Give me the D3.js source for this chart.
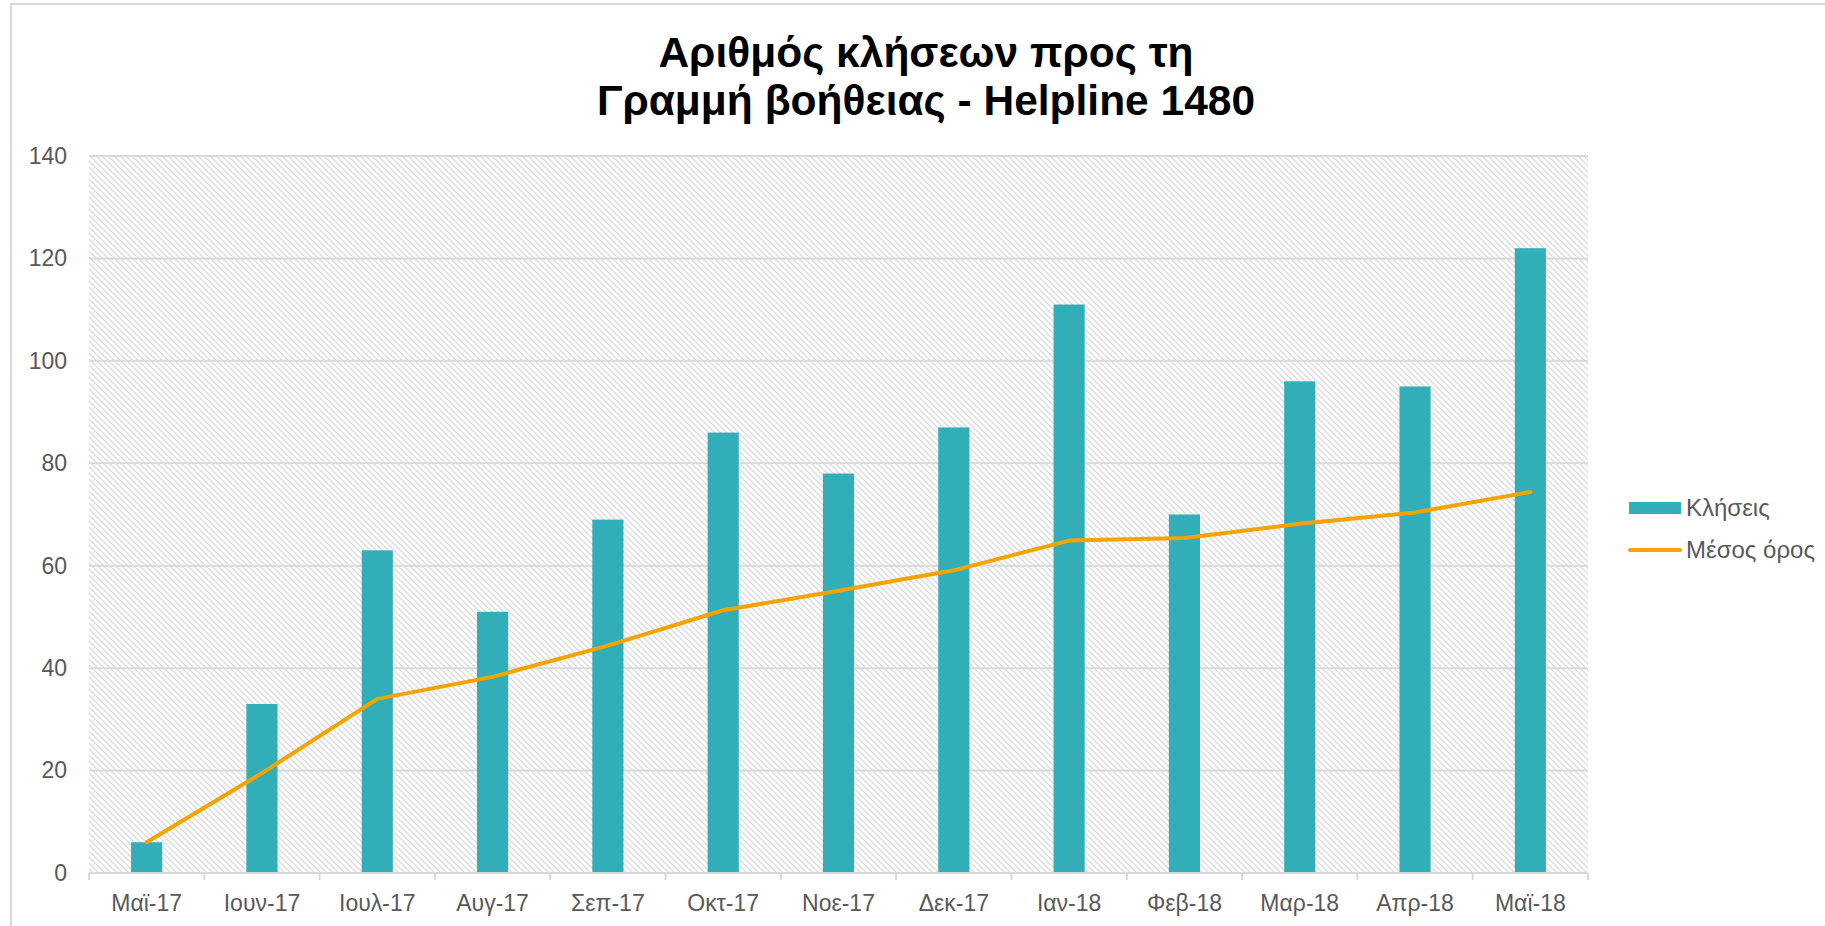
<!DOCTYPE html>
<html>
<head>
<meta charset="utf-8">
<script src="https://cdn.jsdelivr.net/npm/d3@7"></script>
<style>
  body { margin: 0; background: #fff; }
  text { font-family: "Liberation Sans", Arial, sans-serif; }
</style>
</head>
<body>
<div id="chart"></div>
<script>
var months = ['Μαϊ-17', 'Ιουν-17', 'Ιουλ-17', 'Αυγ-17', 'Σεπ-17', 'Οκτ-17', 'Νοε-17',
              'Δεκ-17', 'Ιαν-18', 'Φεβ-18', 'Μαρ-18', 'Απρ-18', 'Μαϊ-18']
var calls = [6, 33, 63, 51, 69, 86, 78, 87, 111, 70, 96, 95, 122]
var average = [6, 19.5, 34, 38.3, 44.4, 51.3, 55.1, 59.1, 64.9, 65.4, 68.2, 70.4, 74.4]
var yTicks = [0, 20, 40, 60, 80, 100, 120, 140]
var titleLines = ['Αριθμός κλήσεων προς τη', 'Γραμμή βοήθειας - Helpline 1480']
var legendNames = ['Κλήσεις', 'Μέσος όρος']

var W = 1825, H = 926
var plot = { left: 89, right: 1588, top: 156, bottom: 873 }

var svg = d3.select('#chart').append('svg')
  .attr('width', W)
  .attr('height', H)

// hatch fill for plot area
var pat = svg.append('defs').append('pattern')
  .attr('id', 'hatch')
  .attr('patternUnits', 'userSpaceOnUse')
  .attr('width', 6)
  .attr('height', 6)
pat.append('rect').attr('width', 6).attr('height', 6).attr('fill', '#fff')
pat.append('path')
  .attr('d', 'M0,0L6,6M-3,3L3,9M3,-3L9,3')
  .attr('stroke', '#dcdcdc')
  .attr('stroke-width', 1.4)

// chart border
svg.append('rect')
  .attr('x', 11).attr('y', 4)
  .attr('width', W).attr('height', H + 20)
  .attr('fill', 'none')
  .attr('stroke', '#d9d9d9')
  .attr('stroke-width', 2)

var x = d3.scaleBand()
  .domain(months)
  .range([plot.left, plot.right])

var y = d3.scaleLinear()
  .domain([0, 140])
  .range([plot.bottom, plot.top])

svg.append('rect')
  .attr('x', plot.left).attr('y', plot.top)
  .attr('width', plot.right - plot.left)
  .attr('height', plot.bottom - plot.top)
  .attr('fill', 'url(#hatch)')

// gridlines
svg.append('g').selectAll('line')
  .data(yTicks.slice(1))
  .enter().append('line')
  .attr('x1', plot.left).attr('x2', plot.right)
  .attr('y1', function (d) { return y(d) })
  .attr('y2', function (d) { return y(d) })
  .attr('stroke', '#d9d9d9')
  .attr('stroke-width', 2)

// y axis labels
var yAxis = d3.axisLeft(y).tickValues(yTicks).tickSize(0).tickPadding(22)
svg.append('g')
  .attr('transform', 'translate(' + plot.left + ',0)')
  .call(yAxis)
  .call(function (g) { g.select('.domain').remove() })
  .selectAll('text')
  .attr('font-size', 23)
  .attr('fill', '#595959')
  .style('font-family', '"Liberation Sans", Arial, sans-serif')

// bars
var barW = x.bandwidth() * 0.27
svg.append('g').selectAll('rect')
  .data(calls)
  .enter().append('rect')
  .attr('x', function (d, i) { return x(months[i]) + (x.bandwidth() - barW) / 2 })
  .attr('y', function (d) { return y(d) })
  .attr('width', barW)
  .attr('height', function (d) { return y(0) - y(d) })
  .attr('fill', '#31aeb7')

// x axis
var xAxis = d3.axisBottom(x).tickSize(0).tickPadding(22)
svg.append('g')
  .attr('transform', 'translate(0,' + plot.bottom + ')')
  .call(xAxis)
  .call(function (g) {
    g.select('.domain').attr('stroke', '#d9d9d9').attr('stroke-width', 2)
      .attr('d', 'M' + plot.left + ',0H' + plot.right)
  })
  .selectAll('text')
  .attr('font-size', 23)
  .attr('fill', '#595959')
  .style('font-family', '"Liberation Sans", Arial, sans-serif')

svg.append('g').selectAll('line')
  .data(months.concat(['end']))
  .enter().append('line')
  .attr('x1', function (d, i) { return plot.left + i * x.step() })
  .attr('x2', function (d, i) { return plot.left + i * x.step() })
  .attr('y1', plot.bottom)
  .attr('y2', plot.bottom + 7)
  .attr('stroke', '#d9d9d9')
  .attr('stroke-width', 2)

// average line
var line = d3.line()
  .x(function (d, i) { return x(months[i]) + x.bandwidth() / 2 })
  .y(function (d) { return y(d) })

svg.append('path')
  .datum(average)
  .attr('d', line)
  .attr('fill', 'none')
  .attr('stroke', '#f5a300')
  .attr('stroke-width', 4)
  .attr('stroke-linejoin', 'round')
  .attr('stroke-linecap', 'round')

// title
svg.append('text')
  .attr('x', 926)
  .attr('text-anchor', 'middle')
  .attr('font-size', 42.5)
  .attr('font-weight', 'bold')
  .attr('fill', '#000')
  .selectAll('tspan')
  .data(titleLines)
  .enter().append('tspan')
  .attr('x', 926)
  .attr('y', function (d, i) { return 67 + i * 48 })
  .text(function (d) { return d })

// legend
var legend = svg.append('g').attr('transform', 'translate(1629,0)')
legend.append('rect')
  .attr('x', 0).attr('y', 502)
  .attr('width', 52).attr('height', 12)
  .attr('fill', '#31aeb7')
legend.append('line')
  .attr('x1', 1).attr('x2', 51)
  .attr('y1', 550).attr('y2', 550)
  .attr('stroke', '#f5a300')
  .attr('stroke-width', 4)
  .attr('stroke-linecap', 'round')
legend.selectAll('text')
  .data(legendNames)
  .enter().append('text')
  .attr('x', 57)
  .attr('y', function (d, i) { return 508 + i * 42 })
  .attr('dy', '0.35em')
  .attr('font-size', 24)
  .attr('fill', '#595959')
  .text(function (d) { return d })
</script>
</body>
</html>
